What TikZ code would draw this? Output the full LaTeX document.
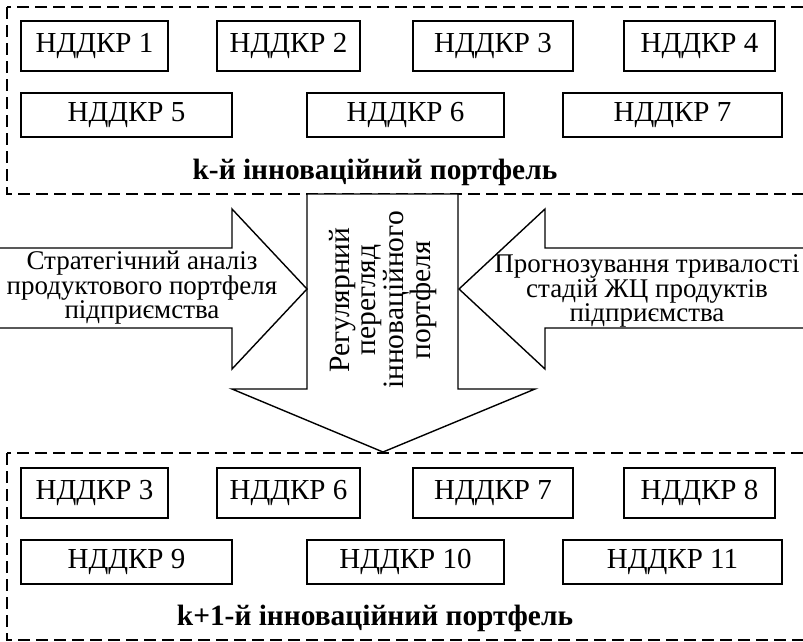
\documentclass[tikz,border=0pt]{standalone}
\usepackage{fontspec}
\setmainfont{Liberation Serif}
\begin{document}
\begin{tikzpicture}[x=1pt,y=-1pt,
  portfolio/.style={draw,line width=1.4pt,dash pattern=on 12pt off 6pt},
  rd/.style={draw,line width=1.4pt,inner sep=0pt,font=\fontsize{29}{30}\selectfont},
  rowa/.style={rd,minimum height=50pt},
  rowb/.style={rd,minimum height=44pt},
  bigarrow/.style={draw,fill=white,line width=1.4pt,line join=miter},
  arrowtext/.style={align=center,inner sep=0pt,font=\fontsize{27}{24.5}\selectfont},
  revtext/.style={align=center,inner sep=0pt,font=\fontsize{29.5}{26}\selectfont},
  ptitle/.style={inner sep=0pt,font=\fontsize{29.4}{30}\selectfont\bfseries}]
\useasboundingbox (0,0) rectangle (803,641);
\clip (0,0) rectangle (803,641);

% k-th portfolio
\draw[portfolio] (7,7) rectangle (830,194);
\node[rowa,minimum width=147pt] (a1) at (94.5,46) {НДДКР 1};
\node[rowa,minimum width=143pt] (a2) at (288.5,46) {НДДКР 2};
\node[rowa,minimum width=160pt] (a3) at (493,46) {НДДКР 3};
\node[rowa,minimum width=151pt] (a4) at (699.5,46) {НДДКР 4};
\node[rowb,minimum width=211pt] (a5) at (126.5,115) {НДДКР 5};
\node[rowb,minimum width=197pt] (a6) at (405.5,115) {НДДКР 6};
\node[rowb,minimum width=219pt] (a7) at (672.5,115) {НДДКР 7};
\node[ptitle] (t1) at (375,172) {k-й інноваційний портфель};

% (k+1)-th portfolio
\draw[portfolio] (7,453) rectangle (830,640);
\node[rowa,minimum width=147pt] (b1) at (94.5,493) {НДДКР 3};
\node[rowa,minimum width=143pt] (b2) at (288.5,493) {НДДКР 6};
\node[rowa,minimum width=160pt] (b3) at (493,493) {НДДКР 7};
\node[rowa,minimum width=151pt] (b4) at (699.5,493) {НДДКР 8};
\node[rowb,minimum width=211pt] (b5) at (126.5,562) {НДДКР 9};
\node[rowb,minimum width=197pt] (b6) at (405.5,562) {НДДКР 10};
\node[rowb,minimum width=219pt] (b7) at (672.5,562) {НДДКР 11};
\node[ptitle] (t2) at (375,618) {k+1-й інноваційний портфель};

% central downward arrow
\draw[bigarrow] (307,194) -- (458,194) -- (458,389) -- (535,389) -- (383,452)
  -- (232,389) -- (307,389) -- cycle;
\node[revtext,rotate=90] (rev) at (383,300)
  {Регулярний\\перегляд\\інноваційного\\портфеля};

% left arrow
\draw[bigarrow] (-5,248) -- (232,248) -- (232,209) -- (307,289) -- (232,369)
  -- (232,328) -- (-5,328) -- cycle;
\node[arrowtext] (la) at (142,288)
  {Стратегічний аналіз\\продуктового портфеля\\підприємства};

% right arrow
\draw[bigarrow] (820,248) -- (545,248) -- (545,209) -- (459,289) -- (545,369)
  -- (545,328) -- (820,328) -- cycle;
\node[arrowtext] (ra) at (647,291)
  {Прогнозування тривалості\\стадій ЖЦ продуктів\\підприємства};
\end{tikzpicture}
\end{document}
